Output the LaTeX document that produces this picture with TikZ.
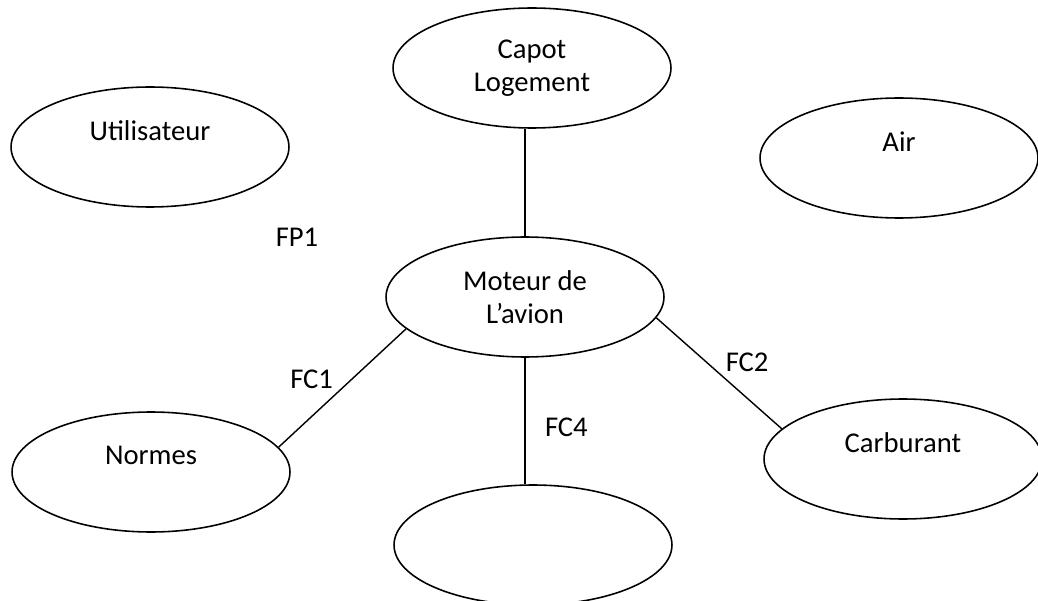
\documentclass[tikz,border=0pt]{standalone}
\usepackage{fontspec}
\setmainfont{Carlito}
\usetikzlibrary{shapes.geometric}

\begin{document}
\begin{tikzpicture}[
    x=0.02cm, y=-0.02cm,
    bulle/.style={ellipse, draw, line width=0.9pt, minimum width=5.56cm, minimum height=2.4cm, inner sep=0pt, align=center, font=\fontsize{16.3}{19}\selectfont},
    lien/.style={line width=0.8pt},
    etiq/.style={inner sep=2pt, font=\fontsize{16.3}{19}\selectfont}
]
\useasboundingbox (0,0) rectangle (1038,601);
\node[bulle] (capot) at (532,68) {Capot\\Logement};
\node[bulle] (utilisateur) at (150,147) {Utilisateur\\~};
\node[bulle] (air) at (899,158) {Air\\~};
\node[bulle] (moteur) at (525,297) {Moteur de\\L’avion};
\node[bulle] (normes) at (151,472) {Normes\\~};
\node[bulle] (carburant) at (903,459) {Carburant\\~};
\node[bulle] (vide) at (533,545) {};
\node[etiq] (fp1) at (297,237) {FP1};
\draw[lien] (moteur.north) -- (moteur.north |- capot.south);
\draw[lien] (moteur.195) -- node[etiq, pos=0.54, above left]{FC1} (normes.11);
\draw[lien] (moteur.-9) -- node[etiq, pos=0.52, above right]{FC2} (carburant.166);
\draw[lien] (moteur.south) -- node[etiq, pos=0.55, right=9pt]{FC4} (moteur.south |- vide.north);
\end{tikzpicture}
\end{document}
